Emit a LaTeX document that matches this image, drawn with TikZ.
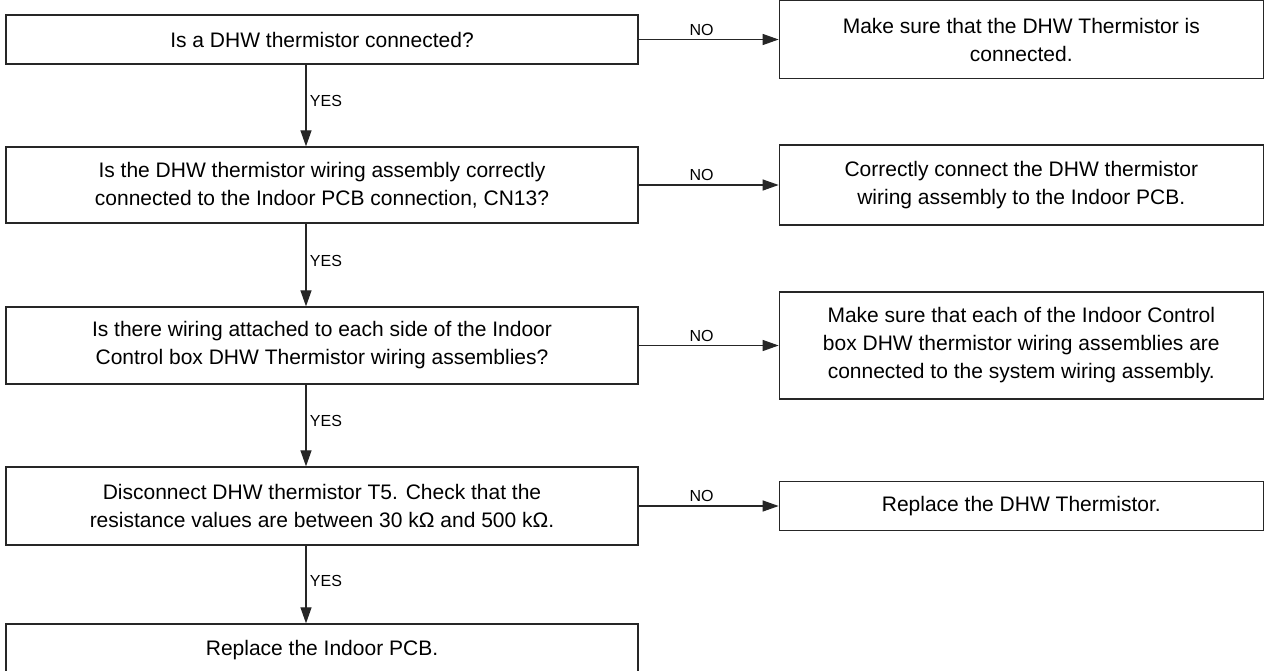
\documentclass[tikz,border=0pt]{standalone}
\usepackage{fontspec}
\setmainfont{Liberation Sans}
\usetikzlibrary{positioning, arrows.meta}

\begin{document}
\begin{tikzpicture}[x=1pt, y=-1pt, >={Triangle[length=16pt, width=11pt]},
		box/.style={draw=black!85, line width=1.3pt, rectangle, align=center, inner sep=0pt, font=\fontsize{21}{28}\selectfont},
		qbox/.style={box, minimum width=632pt},
		abox/.style={box, minimum width=484pt},
		flow/.style={->, draw=black!85, line width=1.2pt},
		lbl/.style={font=\fontsize{16}{19}\selectfont}]
			\useasboundingbox (0,0) rectangle (1266,670);
			\node (Q1) [qbox, minimum height=49pt] at (322,39.5) {Is a DHW thermistor connected?};
			\node (Q2) [qbox, minimum height=76pt] at (322,185) {Is the DHW thermistor wiring assembly correctly\\connected to the Indoor PCB connection, CN13?};
			\node (Q3) [qbox, minimum height=77pt] at (322,345.5) {Is there wiring attached to each side of the Indoor\\Control box DHW Thermistor wiring assemblies?};
			\node (Q4) [qbox, minimum height=78pt] at (322,506) {Disconnect DHW thermistor T5. Check that the\\resistance values are between 30 kΩ and 500 kΩ.};
			\node (Q5) [qbox, minimum height=52pt] at (322,650) {Replace the Indoor PCB.};
			\node (A1) [abox, minimum height=78pt, right=140pt of Q1] {Make sure that the DHW Thermistor is\\connected.};
			\node (A2) [abox, minimum height=80pt, right=140pt of Q2] {Correctly connect the DHW thermistor\\wiring assembly to the Indoor PCB.};
			\node (A3) [abox, minimum height=107pt, right=140pt of Q3] {Make sure that each of the Indoor Control\\box DHW thermistor wiring assemblies are\\connected to the system wiring assembly.};
			\node (A4) [abox, minimum height=49pt, right=140pt of Q4] {Replace the DHW Thermistor.};
			\draw[flow] (Q1) -- node[lbl, above, pos=0.45] {NO} (A1);
			\draw[flow] (Q2) -- node[lbl, above, pos=0.45] {NO} (A2);
			\draw[flow] (Q3) -- node[lbl, above, pos=0.45] {NO} (A3);
			\draw[flow] (Q4) -- node[lbl, above, pos=0.45] {NO} (A4);
			\draw[flow] ([xshift=-16pt]Q1.south) -- node[lbl, right, pos=0.45] {YES} ([xshift=-16pt]Q2.north);
			\draw[flow] ([xshift=-16pt]Q2.south) -- node[lbl, right, pos=0.45] {YES} ([xshift=-16pt]Q3.north);
			\draw[flow] ([xshift=-16pt]Q3.south) -- node[lbl, right, pos=0.45] {YES} ([xshift=-16pt]Q4.north);
			\draw[flow] ([xshift=-16pt]Q4.south) -- node[lbl, right, pos=0.45] {YES} ([xshift=-16pt]Q5.north);
		\end{tikzpicture}
\end{document}
